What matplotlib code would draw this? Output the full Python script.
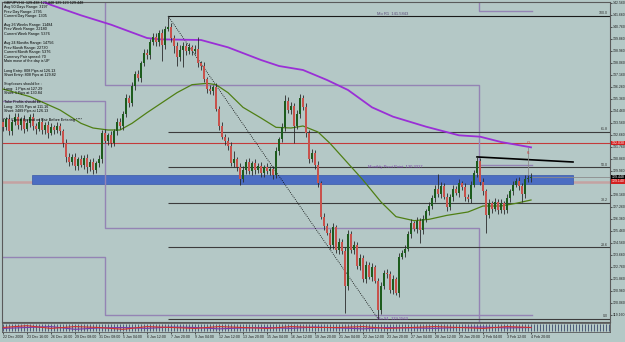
import numpy as np
import matplotlib.pyplot as plt
from matplotlib.patches import Rectangle

plt.rcParams['font.family'] = ['Liberation Sans', 'DejaVu Sans']

#<------------------------------ candles (4H, index = bar number) ------------------------------>
first_open = 133.6
closes = [133.2, 133.8, 132.9, 133.6, 134.0, 133.4, 133.8, 133.1, 133.5, 134.0,
          133.3, 133.1, 133.6, 133.0, 133.4, 132.8, 133.2, 133.0, 133.3, 132.9,
          132.0, 131.0, 130.6, 131.0, 130.3, 130.8, 130.4, 130.9, 130.2, 130.6,
          130.0, 130.5, 130.8, 132.8, 132.2, 132.6, 132.0, 132.9, 133.6, 133.3,
          134.2, 135.4, 135.0, 136.3, 137.2, 136.9, 138.0, 138.8, 138.6, 139.6,
          140.0, 139.6, 140.3, 139.4, 140.6, 140.7, 139.9, 139.3, 138.5, 139.0,
          139.3, 138.9, 139.2, 138.9, 139.1, 138.0, 137.8, 136.8, 136.1, 135.9,
          136.2, 134.6, 133.3, 132.5, 132.2, 131.8, 130.5, 130.8, 130.2, 129.3,
          130.0, 130.6, 129.9, 130.5, 130.0, 130.3, 129.8, 130.2, 129.9, 130.1,
          129.6, 131.4, 132.3, 133.2, 135.2, 134.5, 134.8, 133.3, 134.2, 135.4,
          134.7, 132.8, 130.8, 131.3, 130.4, 129.0, 126.5, 125.8, 125.3, 124.4,
          125.7, 124.0, 124.6, 123.9, 121.3, 125.2, 124.0, 124.4, 122.8, 123.4,
          121.8, 122.9, 122.0, 122.7, 121.7, 119.5, 121.3, 122.3, 122.2, 121.0,
          121.8, 120.8, 123.5, 123.8, 124.1, 125.2, 126.0, 125.6, 126.2, 125.5,
          126.3, 126.9, 127.3, 127.9, 128.6, 128.2, 128.8, 128.0, 127.2, 128.0,
          128.6, 128.3, 129.0, 128.7, 128.0, 127.8, 128.9, 129.8, 130.7, 129.1,
          128.4, 126.6, 127.5, 127.1, 127.6, 127.0, 127.5, 127.0, 127.9, 128.4,
          128.9, 129.2, 128.8, 128.2, 129.3, 129.4, 129.45]
upper_wick = [0.3, 0.2, 0.4, 0.2, 0.3, 0.3, 0.2, 0.3, 0.3, 0.2,
              0.3, 0.2, 0.3, 0.3, 0.2, 0.3, 0.3, 0.2, 0.3, 0.2,
              0.2, 0.3, 0.3, 0.2, 0.3, 0.2, 0.3, 0.2, 0.3, 0.2,
              0.3, 0.2, 0.3, 0.2, 0.3, 0.2, 0.3, 0.2, 0.3, 0.3,
              0.2, 0.3, 0.2, 0.3, 0.2, 0.3, 0.2, 0.3, 0.3, 0.2,
              0.3, 0.3, 0.2, 0.3, 0.2, 0.85, 0.3, 0.2, 0.3, 0.4,
              0.3, 0.2, 0.3, 0.2, 0.3, 0.9, 0.2, 0.3, 0.2, 0.3,
              0.2, 0.3, 0.2, 0.3, 0.2, 0.3, 0.3, 0.6, 0.2, 0.3,
              0.3, 0.2, 0.3, 0.2, 0.3, 0.2, 0.3, 0.2, 0.3, 0.2,
              0.2, 0.3, 0.2, 0.3, 0.4, 0.3, 0.3, 0.2, 0.3, 0.3,
              0.2, 0.3, 0.2, 0.3, 0.2, 0.3, 0.2, 0.3, 0.2, 0.3,
              0.3, 0.2, 0.3, 0.2, 0.3, 0.3, 0.2, 0.3, 0.2, 0.3,
              0.2, 0.3, 0.2, 0.3, 0.2, 0.2, 0.3, 0.2, 0.3, 0.2,
              0.3, 0.2, 0.3, 0.2, 0.3, 0.2, 0.3, 0.2, 0.3, 0.2,
              0.3, 0.2, 0.3, 0.2, 0.3, 1.1, 0.3, 0.2, 0.3, 0.2,
              0.3, 0.2, 0.3, 0.2, 0.3, 0.2, 0.3, 0.2, 0.3, 0.2,
              0.3, 0.2, 0.3, 0.2, 0.3, 0.2, 0.3, 0.2, 0.3, 0.2,
              0.3, 0.2, 0.3, 0.2, 0.3, 0.2, 0.3]
lower_wick = [0.3, 0.2, 0.3, 0.3, 0.2, 0.3, 0.4, 0.3, 0.2, 0.3,
              0.3, 0.4, 0.2, 0.3, 0.3, 0.4, 0.2, 0.3, 0.2, 0.3,
              0.3, 0.4, 0.3, 0.2, 0.3, 0.3, 0.2, 0.3, 0.4, 0.3,
              0.3, 0.2, 0.3, 0.3, 0.2, 0.3, 0.3, 0.2, 0.3, 0.2,
              0.3, 0.2, 0.3, 0.2, 0.3, 0.2, 0.3, 0.2, 0.3, 0.3,
              0.2, 0.3, 0.3, 1.2, 0.3, 0.2, 0.3, 0.5, 0.7, 0.3,
              1.3, 0.3, 0.2, 0.3, 0.2, 0.3, 0.3, 0.2, 0.3, 0.2,
              0.3, 0.2, 0.3, 0.2, 0.3, 0.3, 0.2, 0.3, 0.3, 0.4,
              0.2, 0.3, 0.2, 0.3, 0.3, 0.2, 0.3, 0.3, 0.2, 0.3,
              0.3, 0.2, 0.3, 0.2, 0.3, 0.2, 0.3, 1.3, 0.2, 0.3,
              0.2, 0.3, 0.3, 0.2, 0.3, 0.3, 0.2, 0.3, 0.2, 0.3,
              0.3, 0.2, 0.3, 0.2, 2.0, 0.3, 0.2, 0.3, 0.2, 0.3,
              0.2, 0.3, 0.2, 0.3, 0.2, 0.65, 0.3, 0.2, 0.3, 0.2,
              0.3, 0.2, 0.3, 0.2, 0.3, 0.2, 0.3, 0.2, 0.3, 1.0,
              0.3, 0.2, 0.3, 0.2, 0.3, 0.2, 0.3, 0.2, 0.3, 0.2,
              0.3, 0.2, 0.3, 0.2, 0.3, 0.2, 0.3, 0.2, 0.3, 0.2,
              0.3, 1.3, 0.2, 0.3, 0.2, 0.3, 0.2, 0.3, 0.2, 0.3,
              0.3, 0.2, 0.3, 0.6, 0.3, 0.2, 0.3]

#<------------------------------ moving averages (read at bar numbers) ------------------------------>
ma_slow_idx = [12, 16, 26, 36, 48, 52, 66, 75, 86, 92, 100, 108, 115, 123, 130, 141, 152, 159, 166, 176]
ma_slow_val = [142.75, 142.38, 141.6, 140.9, 139.9, 139.8, 139.75, 139.2, 138.25, 137.8, 137.5,
               136.75, 136.0, 134.7, 134.0, 133.25, 132.6, 132.5, 132.1, 131.7]
ma_fast_idx = [0, 9, 19, 26, 30, 35, 39, 43, 48, 52, 58, 63, 68, 71, 75, 80, 86, 91, 96, 100, 105,
               109, 115, 120, 126, 131, 137, 142, 148, 155, 160, 166, 171, 176]
ma_fast_val = [136.07, 135.5, 134.5, 133.5, 133.15, 133.0, 133.0, 133.5, 134.3, 134.9, 135.8, 136.4,
               136.5, 136.4, 135.8, 134.7, 133.9, 133.2, 133.15, 133.3, 132.85, 132.0, 130.5, 129.25,
               127.6, 126.5, 126.2, 126.3, 126.6, 126.85, 127.3, 127.3, 127.5, 127.75]

#<------------------------------ levels ------------------------------>
fib_high, fib_low = 141.55, 118.85
fib_start = 55
fib_ratios = [1.0, 0.618, 0.5, 0.382, 0.236, 0.0]
fib_names = ["100.0", "61.8", "50.0", "38.2", "23.6", "0.0"]
month_breaks = [34, 158.5, 176.3]
pivot_steps = [[143.5, 143.5, 141.95], [143.5, 136.4, 130.35], [135.2, 125.65, 119.1], [123.5, 119.1, 117.0]]
red_level = 132.03
band_lo, band_hi, band_x0, band_x1 = 128.98, 129.62, 9.7, 190
ask_line = 129.09
bid, ask = 129.448, 129.14
price_ticks = [142.56, 141.66, 140.76, 139.86, 138.96, 138.06, 137.16, 136.26, 135.36, 134.46,
               133.56, 132.66, 131.76, 130.86, 129.96, 128.16, 127.26, 126.36, 125.46, 124.56,
               123.66, 122.76, 121.86, 120.96, 120.06, 119.16]
date_idx = [0, 8, 16, 24, 32, 40, 48, 56, 64, 72, 80, 88, 96, 104, 112, 120, 128, 136, 144, 152, 160, 168, 176]
date_labels = ["22 Dec 2008", "23 Dec 16:00", "26 Dec 16:00", "29 Dec 08:00", "31 Dec 08:00", "5 Jan 04:00",
               "6 Jan 12:00", "7 Jan 20:00", "9 Jan 04:00", "12 Jan 12:00", "13 Jan 20:00", "15 Jan 04:00",
               "16 Jan 12:00", "19 Jan 20:00", "21 Jan 04:00", "22 Jan 12:00", "23 Jan 20:00", "27 Jan 04:00",
               "28 Jan 12:00", "29 Jan 20:00", "2 Feb 04:00", "3 Feb 12:00", "4 Feb 20:00"]
osc_red = [0.5, 0.7, 0.4, 0.6, 0.5, 0.3, 0.6, 0.5, 0.4, 0.6, 0.5, 0.4, 0.6, 0.5, 0.5, 0.6, 0.4, 0.5, 0.6, 0.5, 0.4, 0.6, 0.5]
osc_purple = [0.4, 0.5, 0.6, 0.3, 0.45, 0.5, 0.4, 0.55, 0.5, 0.35, 0.45, 0.5, 0.4, 0.55, 0.45, 0.35, 0.5, 0.45, 0.4, 0.5, 0.55, 0.45, 0.5]
info = ["GBPJPY,H4  129.438 129.448 129.123 129.448", "Avg 50 Days Range: 3197", "Prev Day Range: 2795",
        "Current Day Range: 1305", "Avg 26 Weeks Range: 11484", "Prev Week Range: 22180",
        "Current Week Range: 5376", "Avg 24 Months Range: 14756", "Prev Month Range: 22730",
        "Current Month Range: 5376", "Currency Pair spread: 70", "Main move of the day is UP",
        "Long Entry: 808 Pips at 126.13", "Short Entry: 808 Pips at 129.82", "Stoplosses should be :",
        "Long:  1 Pips at 127.29", "Short: 1 Pips at 130.84", "Take Profits should be :",
        "Long:  3035 Pips at 111.16", "Short: 3489 Pips at 126.13",
        "**** Check Spread on Pair Before Entering ****"]
info_y = [3, 7, 12, 16, 25, 29, 34, 43, 48, 52, 57, 61, 71, 75, 84, 89, 93, 102, 107, 111, 120]

#<------------------------------ figure ------------------------------>
W, H = 625, 342
bg = "#b4c8c6"
fig = plt.figure(figsize=(W / 100, H / 100), dpi=100)
fig.patch.set_facecolor(bg)
ax = fig.add_axes([2 / W, 1 - 322 / H, 608 / W, 320 / H])
ax.set_facecolor(bg)
xmin, xmax = -1 / 3, 202.33
ax.set_xlim(xmin, xmax); ax.set_ylim(118.6, 142.6)

c = np.array(closes)
o = np.r_[first_open, c[:-1]]
hi = np.maximum(o, c) + np.array(upper_wick)
lo = np.minimum(o, c) - np.array(lower_wick)
idx = np.arange(len(c))
up = c >= o

# band + ask line (behind candles)
ax.axhline(ask_line, color="#c4a2a2", lw=1.8, zorder=1)
ax.add_patch(Rectangle((band_x0, band_lo), band_x1 - band_x0, band_hi - band_lo,
                       fc="#4b6dc2", ec="#3a58a8", lw=0.5, zorder=1.5))
ax.axhline(red_level, color="#c43a3a", lw=0.8, zorder=2)

# monthly pivot step lines
for lv in pivot_steps:
    xs = [xmin, month_breaks[0], month_breaks[0], month_breaks[1], month_breaks[1], month_breaks[2]]
    ys = [lv[0], lv[0], lv[1], lv[1], lv[2], lv[2]]
    ax.plot(xs, ys, color="#9484b4", lw=1.0, zorder=2)

# fibonacci
for r, name in zip(fib_ratios, fib_names):
    lv = fib_low + r * (fib_high - fib_low)
    ax.hlines(lv, fib_start, xmax, color="#1a1a1a" if r == 1.0 else "#3c3c3c", lw=0.8, zorder=2)
    ax.text(xmax - 0.6, lv + 0.05, name, ha="right", va="bottom", fontsize=2.6, color="#303030")
ax.plot([fib_start, 125], [fib_high, fib_low], color="black", ls=(0, (1, 1.5)), lw=0.6, zorder=2)

# moving averages
ax.plot(ma_slow_idx, ma_slow_val, color="#9a2fd6", lw=1.3, zorder=3)
ax.plot(ma_fast_idx, ma_fast_val, color="#4f7f14", lw=0.9, zorder=3)

# candles
ax.vlines(idx, lo, hi, color="#2a2a2a", lw=0.6, zorder=4)
body = np.maximum(np.abs(c - o), 0.06)
ax.bar(idx[up], body[up], bottom=np.minimum(o, c)[up], width=0.72, color="#1d5c1d", lw=0, zorder=5)
ax.bar(idx[~up], body[~up], bottom=np.minimum(o, c)[~up], width=0.72, color="#c8524c", lw=0, zorder=5)

# extras on the right
ax.plot([158, 190], [130.98, 130.6], color="black", lw=1.2, zorder=3)
ax.vlines(175, 129.5, 131.7, color="#8c8c8c", lw=0.6, zorder=3)
ax.hlines(129.47, 176.3, xmax, color="#8c8c8c", lw=0.6, zorder=3)
ax.text(175, 132.0, "G", color="#d03030", fontsize=3.2, ha="center", va="center")
ax.text(175, 131.3, "6", color="#d03030", fontsize=3.2, ha="center", va="center")
ax.text(124.7, 141.72, "Mo R1  141.5843", fontsize=3, color="#5a4a78", va="center")
ax.text(121.7, 130.25, "Monthly Pivot Point  130.3317", fontsize=3, color="#7a44a8", va="center")
ax.text(124.7, 118.82, "Mo S1  119.1563", fontsize=3, color="#7a44a8", va="center")

# price scale
ax.yaxis.tick_right()
ax.set_yticks(price_ticks)
ax.set_yticklabels(["%.3f" % v for v in price_ticks])
ax.tick_params(axis="y", labelsize=2.5, pad=0.8, length=1.5, width=0.5, colors="#202020")
ax.tick_params(axis="x", bottom=False, labelbottom=False)
tr = ax.get_yaxis_transform()
for val, fc, txt in [(bid, "black", "%.3f" % bid), (ask, "#d42020", "%.3f" % ask), (red_level, "#d42020", "%.3f" % red_level)]:
    ax.text(1.003, val, txt, transform=tr, fontsize=2.5, color="white", va="center", ha="left",
            bbox=dict(boxstyle="square,pad=0.1", fc=fc, ec="none"))
for s in ax.spines.values():
    s.set_color("#5a5a5a"); s.set_linewidth(0.8)

# info block
for t, yy in zip(info, info_y):
    fig.text(4 / W, 1 - yy / H, t, fontsize=2.7, va="center", ha="left", color="black")

#<------------------------------ bottom indicator strip ------------------------------>
sx = fig.add_axes([2 / W, 1 - 332 / H, 608 / W, 9 / H])
sx.set_facecolor(bg)
sx.set_xlim(xmin, xmax); sx.set_ylim(0, 1)
sx.vlines(np.arange(0, 203), 0.15, 0.85, color="#23305a", lw=0.5)
sx.plot(date_idx, osc_purple, color="#7a3aa8", lw=0.8)
sx.plot(date_idx, osc_red, color="#d03030", lw=0.8)
sx.set_yticks([])
sx.set_xticks(date_idx)
sx.set_xticklabels(date_labels)
for lbl in sx.get_xticklabels():
    lbl.set_ha("left")
sx.tick_params(axis="x", labelsize=2.6, pad=0.8, length=1.5, width=0.5, colors="#202020")
for s in sx.spines.values():
    s.set_color("#5a5a5a"); s.set_linewidth(0.6)

plt.savefig("out.png", dpi=100, facecolor=bg)
